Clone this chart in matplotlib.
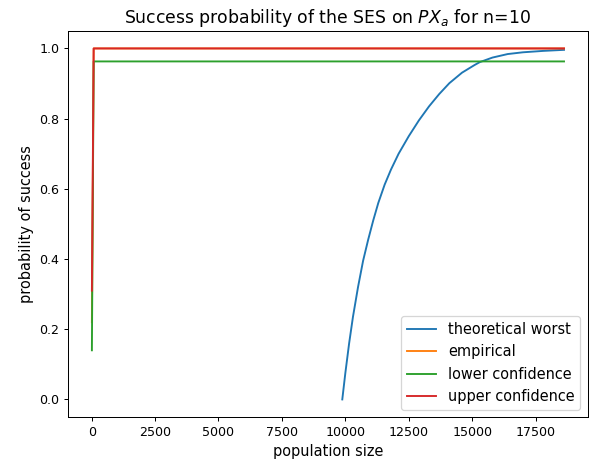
import matplotlib
matplotlib.use("Agg")
import matplotlib.pyplot as plt

# theoretical worst case
theory_sizes = [9880, 10000, 10150, 10300, 10500, 10700, 10900, 11100, 11300,
                11550, 11800, 12100, 12500, 12900, 13300, 13700, 14100, 14600,
                15100, 15300, 15800, 16400, 17000, 17800, 18620]
theory_prob = [0.0, 0.075, 0.16, 0.235, 0.32, 0.395, 0.455, 0.51, 0.56,
               0.612, 0.655, 0.70, 0.75, 0.795, 0.835, 0.87, 0.901, 0.931,
               0.953, 0.961, 0.974, 0.984, 0.989, 0.993, 0.996]

# empirical estimate with its confidence bounds
sizes = [10, 80, 18620]
empirical = [0.22, 1.0, 1.0]
lower_conf = [0.14, 0.963, 0.963]
upper_conf = [0.31, 1.0, 1.0]

dpi = 91
fig = plt.figure(figsize=(599 / dpi, 468 / dpi), dpi=dpi)
ax = fig.add_axes([0.114, 0.109, 0.867, 0.825])

ax.plot(theory_sizes, theory_prob, label='theoretical worst')
ax.plot(sizes, empirical, label='empirical')
ax.plot(sizes, lower_conf, label='lower confidence')
ax.plot(sizes, upper_conf, label='upper confidence')

ax.set_xticks([0, 2500, 5000, 7500, 10000, 12500, 15000, 17500])
ax.tick_params(labelsize=10)
ax.set_xlabel('population size', fontsize=11.5)
ax.set_ylabel('probability of success', fontsize=11.5)
ax.set_title('Success probability of the SES on $PX_a$ for n=10', fontsize=13.7)
ax.legend(loc='lower right', fontsize=11.5)

fig.savefig('out.png', dpi=dpi)
